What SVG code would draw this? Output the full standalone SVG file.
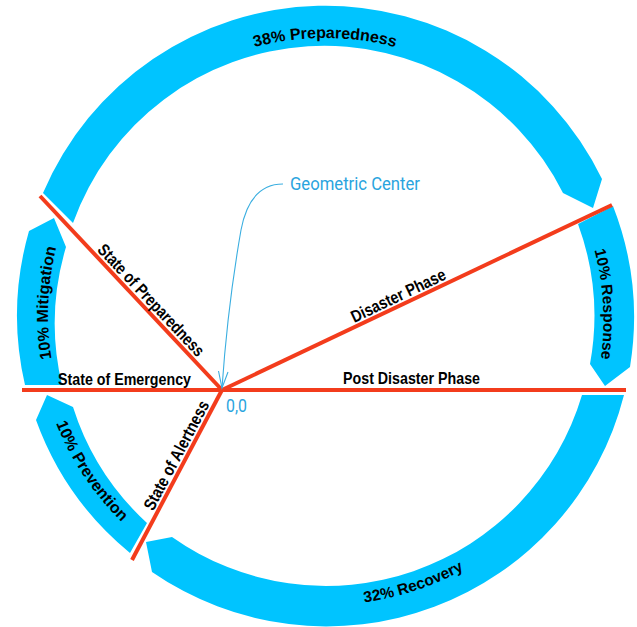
<svg xmlns="http://www.w3.org/2000/svg" width="637" height="627" viewBox="0 0 637 627">
<style>
.seg{fill:#00C4FF}
.lbl{font-family:"Liberation Sans",Arial,sans-serif;font-weight:bold;font-size:16px;fill:#000}
.ln{font-size:17px}
.red{stroke:#F33C1C;stroke-width:4;fill:none;stroke-linecap:butt}
.blue{font-family:Roboto,"Liberation Sans",sans-serif;font-size:18px;fill:#2AA4DE}
.call{stroke:#3AAEE0;stroke-width:1.1;fill:none}
</style>
<defs>
<path id="pPrep" d="M48,315 A277,277 0 0 1 602,315"/>
<path id="pResp" d="M494.6,97.8 A282,282 0 0 1 519.0,521.6"/>
<path id="pMit" d="M137.9,519.2 A277,277 0 0 1 156.4,95.2"/>
<path id="pPrev" d="M46.7,233.6 A290,290 0 0 0 293.2,603.3"/>
<path id="pRec" d="M172.2,561.5 A290,290 0 0 0 594.3,422.7"/>
</defs>

<g id="preparedness">
<path class="seg" d="M43,193 A307,307 0 0 1 602,179 L593,208 L563,193 A267,267 0 0 0 73,223 Z"/>
<text class="lbl"><textPath href="#pPrep" startOffset="50%" text-anchor="middle">38% Preparedness</textPath></text>
</g>
<g id="response">
<path class="seg" d="M613,206 A307,307 0 0 1 630,367 L605,386 L590,364 A267,267 0 0 0 578,224 Z"/>
<text class="lbl" style="font-size:15.5px"><textPath href="#pResp" startOffset="50%" text-anchor="middle">10% Response</textPath></text>
</g>
<g id="recovery">
<path class="seg" d="M624,395 A307,307 0 0 1 152,572 L146,542 L172,537 A267,267 0 0 0 582,395 Z"/>
<text class="lbl" style="font-size:15.5px"><textPath href="#pRec" startOffset="50%" text-anchor="middle">32% Recovery</textPath></text>
</g>
<g id="prevention">
<path class="seg" d="M130,553 A307,307 0 0 1 36,420 L47,395 L73,407 A267,267 0 0 0 147,523 Z"/>
<text class="lbl"><textPath href="#pPrev" startOffset="50%" text-anchor="middle">10% Prevention</textPath></text>
</g>
<g id="mitigation">
<path class="seg" d="M25,385 A307,307 0 0 1 29,231 L54,218 L66,247 A267,267 0 0 0 62,385 Z"/>
<text class="lbl"><textPath href="#pMit" startOffset="50%" text-anchor="middle">10% Mitigation</textPath></text>
</g>

<g id="connectors">
<line class="red" x1="40" y1="196" x2="222" y2="390"/>
<line class="red" x1="22" y1="390" x2="222" y2="390"/>
<line class="red" x1="222" y1="390" x2="132" y2="560"/>
<line class="red" x1="222" y1="390" x2="626" y2="390"/>
<line class="red" x1="222" y1="390" x2="612" y2="205"/>
<path class="call" d="M283,184 C262,184 247,198 241,230 C234,270 226,330 222,388"/>
<polyline class="call" points="218.5,371 222,388 228,372"/>
</g>

<g id="line-labels">
<text class="lbl ln" transform="translate(144,306.8) rotate(46.8)" x="0" y="-4" text-anchor="middle" textLength="147" lengthAdjust="spacingAndGlyphs">State of Preparedness</text>
<text class="lbl ln" x="58" y="385" textLength="133" lengthAdjust="spacingAndGlyphs">State of Emergency</text>
<text class="lbl ln" transform="translate(185,459.9) rotate(-62.1)" x="0" y="-4" text-anchor="middle" textLength="121" lengthAdjust="spacingAndGlyphs">State of Alertness</text>
<text class="lbl ln" x="343" y="384" textLength="137" lengthAdjust="spacingAndGlyphs">Post Disaster Phase</text>
<text class="lbl ln" transform="translate(402.4,304.4) rotate(-25.4)" x="0" y="-4" text-anchor="middle" textLength="103" lengthAdjust="spacingAndGlyphs">Disaster Phase</text>
</g>

<g id="geometric-center">
<text class="blue" x="290" y="190" textLength="130" lengthAdjust="spacingAndGlyphs">Geometric Center</text>
<text class="blue" x="226" y="412" textLength="21" lengthAdjust="spacingAndGlyphs">0,0</text>
</g>
</svg>
